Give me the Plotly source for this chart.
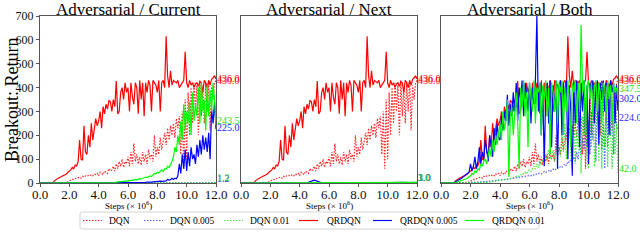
import plotly.graph_objects as go

# ---------------- data ----------------
STEPS = [0.0, 0.1, 0.2, 0.3, 0.4, 0.5, 0.6, 0.7, 0.8, 0.9,
         1.0, 1.1, 1.2, 1.3, 1.4, 1.5, 1.6, 1.7, 1.8, 1.9,
         2.0, 2.1, 2.2, 2.3, 2.4, 2.5, 2.6, 2.7, 2.8, 2.9,
         3.0, 3.1, 3.2, 3.3, 3.4, 3.5, 3.6, 3.7, 3.8, 3.9,
         4.0, 4.1, 4.2, 4.3, 4.4, 4.5, 4.6, 4.7, 4.8, 4.9,
         5.0, 5.1, 5.2, 5.3, 5.4, 5.5, 5.6, 5.7, 5.8, 5.9,
         6.0, 6.1, 6.2, 6.3, 6.4, 6.5, 6.6, 6.7, 6.8, 6.9,
         7.0, 7.1, 7.2, 7.3, 7.4, 7.5, 7.6, 7.7, 7.8, 7.9,
         8.0, 8.1, 8.2, 8.3, 8.4, 8.5, 8.6, 8.7, 8.8, 8.9,
         9.0, 9.1, 9.2, 9.3, 9.4, 9.5, 9.6, 9.7, 9.8, 9.9,
         10.0, 10.1, 10.2, 10.3, 10.4, 10.5, 10.6, 10.7, 10.8, 10.9,
         11.0, 11.1, 11.2, 11.3, 11.4, 11.5, 11.6, 11.7, 11.8, 11.9,
         12.0]

STEPS_COARSE = [0.0, 0.5, 1.0, 1.5, 2.0, 2.5, 3.0, 3.5, 4.0, 4.5, 5.0, 5.5, 6.0,
                6.5, 7.0, 7.5, 8.0, 8.5, 9.0, 9.5, 10.0, 10.5, 11.0, 11.5, 12.0]

PANEL_TITLES = ["Adversarial / Current", "Adversarial / Next", "Adversarial / Both"]
SERIES_NAMES = ["DQN", "DQN 0.005", "DQN 0.01", "QRDQN", "QRDQN 0.005", "QRDQN 0.01"]
X_TICKS = [0, 2, 4, 6, 8, 10, 12]
Y_TICKS = [0, 100, 200, 300, 400, 500, 600, 700]

# baseline (non-adversarial) runs, shared by all panels
QRDQN_BASE = [0, 0, 0, 0, 0, 0, 0, 0, 0, 2,
              10, 15, 20, 22, 25, 28, 30, 35, 38, 45,
              50, 55, 65, 60, 75, 72, 90, 180, 100, 95,
              240, 130, 120, 200, 150, 250, 180, 220, 270, 240,
              260, 300, 230, 320, 290, 330, 310, 345, 340, 300,
              350, 320, 427, 290, 300, 380, 400, 350, 420, 380,
              400, 300, 420, 360, 330, 420, 400, 290, 430, 350,
              420, 280, 420, 380, 430, 410, 300, 430, 420, 410,
              380, 430, 300, 420, 430, 400, 615, 450, 400, 470,
              410, 430, 425, 420, 430, 400, 410, 420, 430, 550,
              420, 400, 430, 410, 420, 400, 415, 420, 405, 425,
              420, 380, 430, 420, 400, 430, 410, 435, 440, 450,
              436]

DQN_BASE = [0, 0, 0, 0, 0, 0, 0, 0, 0, 0,
            0, 0, 0, 0, 0, 0, 0, 0, 2, 5,
            10, 12, 15, 14, 18, 20, 22, 25, 20, 28,
            25, 30, 28, 32, 30, 35, 30, 38, 35, 40,
            30, 45, 40, 35, 50, 45, 40, 60, 50, 55,
            70, 50, 80, 60, 90, 70, 100, 65, 90, 80,
            110, 70, 130, 80, 165, 90, 120, 80, 110, 75,
            130, 90, 120, 80, 140, 100, 120, 90, 200, 110,
            150, 120, 190, 140, 170, 210, 160, 230, 180, 240,
            200, 250, 190, 270, 230, 280, 120, 300, 60, 350,
            100, 380, 200, 400, 250, 420, 300, 410, 200, 430,
            280, 400, 250, 420, 300, 430, 220, 410, 350, 420,
            430]

# panel 1: Adversarial / Current
P1_DQN005 = [0, 0, 0, 0, 0, 0, 0, 0, 0, 0, 0, 0, 0, 1, 0, 1, 0, 1, 1, 2, 1, 2, 1, 2, 1.2]
P1_DQN01 = [0, 0, 0, 0, 0, 0, 0, 0, 0, 0, 0, 0, 1, 0, 1, 1, 0, 2, 1, 1, 2, 1, 2, 1, 1.2]
P1_QR005 = [0, 0, 0, 0, 0, 0, 0, 0, 0, 0,
            0, 0, 0, 0, 0, 0, 0, 0, 0, 0,
            0, 0, 0, 0, 0, 0, 0, 0, 0, 0,
            0, 0, 0, 0, 0, 0, 0, 0, 0, 0,
            0, 0, 0, 0, 0, 1, 0, 0, 0, 1,
            0, 0, 1, 0, 0, 1, 0, 1, 0, 1,
            1, 0, 1, 1, 2, 1, 2, 2, 1, 3,
            3, 2, 3, 4, 3, 5, 4, 5, 6, 5,
            5, 6, 8, 7, 8, 10, 9, 15, 12, 14,
            20, 15, 20, 18, 30, 80, 40, 120, 60, 140,
            50, 130, 70, 150, 100, 120, 80, 160, 110, 180,
            120, 200, 140, 190, 130, 210, 100, 310, 250, 340,
            225]
P1_QR01 = [0, 0, 0, 0, 0, 0, 0, 0, 0, 0,
           0, 0, 0, 0, 0, 0, 0, 0, 0, 0,
           0, 0, 0, 0, 0, 0, 0, 0, 0, 0,
           0, 0, 0, 0, 0, 0, 1, 0, 0, 1,
           0, 1, 1, 0, 1, 1, 1, 2, 1, 2,
           3, 2, 4, 5, 4, 6, 5, 7, 8, 7,
           10, 9, 12, 11, 14, 15, 13, 17, 18, 16,
           20, 22, 25, 23, 28, 30, 27, 35, 40, 38,
           45, 42, 50, 55, 48, 60, 58, 70, 65, 75,
           90, 110, 150, 130, 200, 160, 260, 180, 330, 220,
           300, 250, 340, 200, 380, 260, 330, 280, 400, 250,
           420, 300, 350, 220, 410, 280, 390, 300, 420, 350,
           243.5]

# panel 2: Adversarial / Next
P2_DQN005 = [0, 0, 0, 0, 0, 0, 0, 0, 0, 0, 0, 0, 1, 0, 0, 1, 0, 1, 0, 1, 1, 0, 1, 1, 1]
P2_DQN01 = [0, 0, 0, 0, 0, 0, 0, 0, 0, 0, 0, 1, 0, 0, 1, 0, 1, 0, 1, 0, 1, 1, 0, 1, 1]
P2_QR005 = [0, 0, 0, 0, 0, 0, 0, 0, 0, 1, 12, 1, 0, 1, 0, 1, 1, 0, 1, 2, 1, 2, 3, 2, 3]
P2_QR01 = [0, 0, 0, 0, 0, 0, 0, 0, 0, 0, 1, 0, 1, 1, 0, 1, 2, 1, 1, 2, 2, 1, 3, 2, 3]

# panel 3: Adversarial / Both
P3_DQN005 = [0, 0, 0, 0, 0, 0, 0, 0, 0, 0,
             0, 0, 0, 0, 0, 0, 0, 0, 0, 0,
             1, 1, 2, 2, 3, 3, 4, 4, 5, 5,
             6, 6, 7, 8, 8, 9, 10, 10, 11, 12,
             12, 13, 14, 15, 15, 16, 17, 18, 19, 20,
             20, 22, 21, 24, 25, 23, 27, 28, 26, 30,
             32, 30, 35, 33, 38, 36, 40, 42, 38, 45,
             48, 44, 50, 52, 47, 55, 58, 53, 60, 65,
             62, 70, 66, 75, 80, 72, 90, 85, 100, 95,
             110, 90, 130, 100, 160, 120, 190, 140, 220, 150,
             260, 120, 300, 180, 380, 90, 330, 200, 390, 140,
             250, 60, 350, 150, 400, 200, 330, 120, 380, 250,
             224]
P3_DQN01 = [0, 0, 0, 0, 0, 0, 0, 0, 0, 0,
            0, 0, 0, 0, 0, 0, 0, 0, 0, 0,
            0, 0, 1, 0, 1, 1, 1, 1, 2, 2,
            2, 3, 3, 4, 5, 5, 6, 7, 8, 8,
            10, 12, 11, 14, 15, 16, 18, 17, 20, 22,
            25, 28, 26, 30, 35, 32, 40, 45, 38, 50,
            55, 48, 60, 70, 58, 80, 65, 90, 75, 100,
            85, 120, 95, 140, 100, 110, 138, 90, 150, 120,
            160, 110, 200, 130, 250, 100, 180, 300, 120, 60,
            350, 80, 220, 150, 300, 40, 280, 200, 360, 100,
            60, 320, 150, 380, 70, 250, 350, 90, 400, 60,
            300, 150, 350, 67, 280, 200, 60, 330, 120, 250,
            42]
P3_QR005 = [0, 0, 0, 0, 0, 0, 0, 0, 0, 2,
            5, 8, 12, 15, 20, 25, 30, 35, 40, 45,
            80, 50, 70, 110, 60, 90, 150, 80, 130, 100,
            180, 120, 90, 200, 140, 110, 230, 160, 250, 190,
            180, 280, 220, 300, 260, 370, 240, 330, 280, 380,
            300, 420, 260, 400, 350, 430, 280, 420, 380, 300,
            420, 250, 400, 330, 430, 700, 300, 420, 200, 400,
            70, 380, 420, 250, 430, 150, 410, 300, 430, 60,
            400, 430, 200, 420, 350, 430, 100, 410, 300, 30,
            420, 250, 430, 380, 150, 420, 300, 430, 200, 410,
            80, 420, 380, 430, 250, 400, 430, 160, 420, 350,
            430, 300, 420, 410, 200, 430, 380, 420, 250, 410,
            302]
P3_QR01 = [0, 0, 0, 0, 0, 0, 0, 0, 0, 0,
           2, 4, 6, 8, 10, 12, 15, 18, 20, 25,
           30, 40, 35, 50, 45, 60, 55, 80, 70, 90,
           100, 80, 120, 150, 110, 180, 130, 200, 160, 220,
           250, 180, 300, 220, 260, 350, 25, 280, 320, 200,
           300, 380, 250, 60, 400, 320, 430, 280, 380, 150,
           420, 350, 300, 430, 250, 400, 380, 420, 200, 410,
           350, 430, 280, 400, 120, 420, 380, 300, 430, 250,
           420, 380, 430, 200, 400, 300, 430, 350, 150, 420,
           380, 430, 250, 420, 300, 662, 380, 430, 200, 410,
           430, 350, 420, 280, 400, 430, 300, 420, 380, 250,
           420, 400, 300, 430, 350, 410, 250, 420, 380, 400,
           347.5]

# ---------------- styling ----------------
RED, BLUE, GREEN = "#ff0000", "#0000ff", "#00ff00"
LABEL_COL = {"DQN": "#ff2020", "DQN 0.005": "#3030ff", "DQN 0.01": "#22dd22",
             "QRDQN": "#ff0000", "QRDQN 0.005": "#2020ff", "QRDQN 0.01": "#22dd22"}
DOT = "1.5px,1.5px"
STYLE = {
    "DQN": dict(color="rgba(255,0,0,0.85)", dash=DOT),
    "DQN 0.005": dict(color="rgba(40,40,255,0.75)", dash=DOT),
    "DQN 0.01": dict(color="rgba(0,230,0,0.8)", dash=DOT),
    "QRDQN": dict(color=RED, dash="solid"),
    "QRDQN 0.005": dict(color=BLUE, dash="solid"),
    "QRDQN 0.01": dict(color=GREEN, dash="solid"),
}
FONT = "Liberation Serif"
W, H = 640, 250
PANEL_X = [(40, 216), (241, 417), (441, 618)]
PLOT_TOP, PLOT_BOTTOM = 16, 183
# legend layout (pixels): handle start, text start
LEG_BOX = (80, 212, 539, 229)
LEG_HANDLE_X = [83, 144, 224, 299, 373, 465]
LEG_TEXT_X = [107, 168, 248, 325, 398, 490]
LEG_HANDLE_LEN = 19

panels = [
    {"DQN": (STEPS, DQN_BASE), "DQN 0.005": (STEPS_COARSE, P1_DQN005),
     "DQN 0.01": (STEPS_COARSE, P1_DQN01), "QRDQN": (STEPS, QRDQN_BASE),
     "QRDQN 0.005": (STEPS, P1_QR005), "QRDQN 0.01": (STEPS, P1_QR01)},
    {"DQN": (STEPS, DQN_BASE), "DQN 0.005": (STEPS_COARSE, P2_DQN005),
     "DQN 0.01": (STEPS_COARSE, P2_DQN01), "QRDQN": (STEPS, QRDQN_BASE),
     "QRDQN 0.005": (STEPS_COARSE, P2_QR005), "QRDQN 0.01": (STEPS_COARSE, P2_QR01)},
    {"DQN": (STEPS, DQN_BASE), "DQN 0.005": (STEPS, P3_DQN005),
     "DQN 0.01": (STEPS, P3_DQN01), "QRDQN": (STEPS, QRDQN_BASE),
     "QRDQN 0.005": (STEPS, P3_QR005), "QRDQN 0.01": (STEPS, P3_QR01)},
]
# pixel nudges for end-value labels (label de-cluttering)
LABEL_SHIFT = [
    {"DQN": 0, "DQN 0.005": 4, "DQN 0.01": 5, "QRDQN": 0, "QRDQN 0.005": 2, "QRDQN 0.01": 4},
    {"DQN": 0, "DQN 0.005": 5, "DQN 0.01": 5, "QRDQN": 0, "QRDQN 0.005": 5, "QRDQN 0.01": 5},
    {"DQN": 0, "DQN 0.005": 12, "DQN 0.01": 4, "QRDQN": 0, "QRDQN 0.005": 12, "QRDQN 0.01": 12},
]

fig = go.Figure()
annotations = []
shapes = []
layout = {}
for p, data in enumerate(panels):
    sfx = "" if p == 0 else str(p + 1)
    xa, ya = "x" + sfx, "y" + sfx
    for name in SERIES_NAMES:
        xs, ys = data[name]
        st = STYLE[name]
        fig.add_trace(go.Scatter(
            x=xs, y=ys, mode="lines", name=name, legendgroup=name,
            showlegend=False, xaxis=xa, yaxis=ya,
            line=dict(color=st["color"], dash=st["dash"], width=1.2),
        ))
        annotations.append(dict(
            x=12, y=ys[-1], xref=xa, yref=ya, text=f"{ys[-1]:.1f}",
            showarrow=False, xanchor="left", yanchor="middle", xshift=-1,
            yshift=LABEL_SHIFT[p][name],
            font=dict(family=FONT, size=10, color=LABEL_COL[name]),
        ))
    x0, x1 = PANEL_X[p]
    layout["xaxis" + sfx] = dict(
        domain=[x0 / W, x1 / W], anchor=ya, range=[0, 12], tickvals=X_TICKS,
        tickformat=".1f", showline=True, mirror=True, linecolor="#555", linewidth=1,
        ticks="outside", ticklen=3, tickcolor="#555", showgrid=False, zeroline=False,
        automargin=False, ticklabelstandoff=-4,
        tickfont=dict(family=FONT, size=13, color="#111"),
    )
    layout["yaxis" + sfx] = dict(
        domain=[(H - PLOT_BOTTOM) / H, (H - PLOT_TOP) / H], anchor=xa, range=[0, 700],
        tickvals=Y_TICKS, showticklabels=(p == 0), showline=True, mirror=True,
        linecolor="#555", linewidth=1, ticks="outside" if p == 0 else "", ticklen=3,
        tickcolor="#555", showgrid=False, zeroline=False, automargin=False,
        tickfont=dict(family=FONT, size=12, color="#111"),
    )
    cx = (x0 + x1) / 2 / W
    annotations.append(dict(x=cx, y=(H - 9) / H, xref="paper", yref="paper",
                            text=PANEL_TITLES[p], showarrow=False, xanchor="center",
                            yanchor="middle", borderpad=0,
                            font=dict(family=FONT, size=17, color="#000")))
    annotations.append(dict(x=cx, y=(H - 205) / H, xref="paper", yref="paper",
                            text="Steps (× 10<sup>6</sup>)", showarrow=False,
                            xanchor="center", yanchor="middle",
                            font=dict(family=FONT, size=9, color="#000")))

annotations.append(dict(x=12 / W, y=(H - 100) / H, xref="paper", yref="paper",
                        text="Breakout: Return", textangle=-90, showarrow=False,
                        xanchor="center", yanchor="middle",
                        font=dict(family=FONT, size=18, color="#000")))

# legend drawn as a matplotlib-style framed row
bx0, by0, bx1, by1 = LEG_BOX
r = 2
path = (f"M {(bx0 + r) / W},{(H - by0) / H} L {(bx1 - r) / W},{(H - by0) / H} "
        f"Q {bx1 / W},{(H - by0) / H} {bx1 / W},{(H - by0 - r) / H} "
        f"L {bx1 / W},{(H - by1 + r) / H} Q {bx1 / W},{(H - by1) / H} {(bx1 - r) / W},{(H - by1) / H} "
        f"L {(bx0 + r) / W},{(H - by1) / H} Q {bx0 / W},{(H - by1) / H} {bx0 / W},{(H - by1 + r) / H} "
        f"L {bx0 / W},{(H - by0 - r) / H} Q {bx0 / W},{(H - by0) / H} {(bx0 + r) / W},{(H - by0) / H} Z")
shapes.append(dict(type="path", xref="paper", yref="paper", path=path,
                   line=dict(color="#d4d4d4", width=1), fillcolor="rgba(255,255,255,0.8)"))
ly = (H - (by0 + by1) / 2) / H
for i, name in enumerate(SERIES_NAMES):
    st = STYLE[name]
    hx = LEG_HANDLE_X[i]
    shapes.append(dict(type="line", xref="paper", yref="paper",
                       x0=hx / W, x1=(hx + LEG_HANDLE_LEN) / W, y0=ly, y1=ly,
                       line=dict(color=st["color"], dash=st["dash"], width=1.2)))
    annotations.append(dict(x=LEG_TEXT_X[i] / W, y=ly, xref="paper", yref="paper",
                            text=name, showarrow=False, xanchor="left", yanchor="middle",
                            font=dict(family=FONT, size=9.5, color="#000")))

fig.update_layout(
    width=W, height=H, margin=dict(l=0, r=0, t=0, b=0, autoexpand=False),
    paper_bgcolor="white", plot_bgcolor="white", showlegend=False,
    annotations=annotations, shapes=shapes,
    **layout,
)
fig.write_html("out.html", config={"displayModeBar": False},
               post_script="document.body.style.margin='0px';")
